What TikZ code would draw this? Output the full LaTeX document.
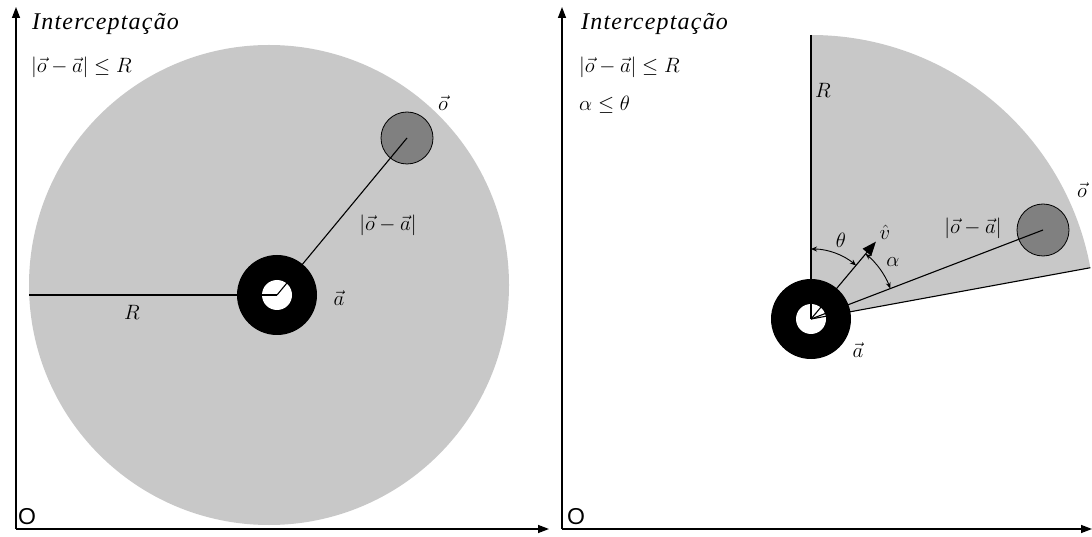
\documentclass[tikz,border=0pt]{standalone}
\usepackage{fontspec}
\setmainfont{Liberation Serif}
\newfontfamily\arialfont{Liberation Sans}
\newfontfamily\titlefont[LetterSpace=5]{Liberation Serif}
\usetikzlibrary{arrows.meta,calc}
\definecolor{lightfill}{RGB}{200,200,200}
\definecolor{darkfill}{RGB}{128,128,128}
\tikzset{
  axis/.style={line width=1.4pt,-{Triangle[length=11pt,width=8pt]}},
  thinline/.style={line width=1.1pt},
  lbl/.style={inner sep=0pt,font=\fontsize{21}{24}\selectfont},
  ttl/.style={inner sep=0pt,font=\titlefont\itshape\fontsize{24}{28}\selectfont},
  angarrow/.style={line width=0.9pt,{Stealth[length=6pt,width=5pt]}-{Stealth[length=6pt,width=5pt]}},
}
\newcommand{\dist}{\Bigl|\vec{o}-\vec{a}\Bigr|}
\begin{document}
\begin{tikzpicture}[x=1pt,y=1pt]
\useasboundingbox (0,0) rectangle (1092,536);
% ---------- left panel ----------
\fill[lightfill] (269,251) circle (240);
\coordinate (aL) at (277,241);
\coordinate (oL) at (407,398);
\coordinate (Rstart) at (29,241);
\fill[black] (aL) circle (40);
\fill[white] (aL) circle (15);
\fill[darkfill,draw=black,line width=0.8pt] (oL) circle (26);
\draw[thinline] (Rstart) -- (aL);
\draw[thinline] (aL) -- (oL);
\coordinate (OL) at (16,7);
\coordinate (xL) at (549,7);
\coordinate (yL) at (16,529);
\draw[axis] (OL) -- (xL);
\draw[axis] (OL) -- (yL);
\node[ttl,anchor=base west] (tL) at (32,506) {Interceptação};
\node[lbl,anchor=west] (cL) at (31,469) {$\dist\le R$};
\node[lbl] (RL) at (132,224) {$R$};
\node[lbl] (aLl) at (339,238) {$\vec{a}$};
\node[lbl] (oLl) at (443,433) {$\vec{o}$};
\node[lbl] (dL) at (388,311) {$\dist$};
\node[inner sep=0pt,font=\arialfont\fontsize{23}{26}\selectfont] (O1) at (27,19) {O};
% ---------- right panel ----------
\coordinate (aR) at (811,217);
\fill[lightfill] (aR) -- ++(10.4:284) arc[start angle=10.4,end angle=90,radius=284] -- cycle;
\draw[thinline] (aR) -- ++(10.4:284);
\draw[line width=1.4pt] (aR) -- ++(90:284);
\coordinate (oR) at (1043,306);
\fill[black] (aR) circle (40);
\fill[white] (aR) circle (15);
\fill[darkfill,draw=black,line width=0.8pt] (oR) circle (26);
\draw[thinline] (aR) -- (oR);
\draw[thinline] (aR) -- ++(90:15);
\draw[thinline] (aR) -- ++(10.4:15);
\coordinate (vtip) at ($(aR)+(50:101)$);
\draw[line width=1.1pt,-{Triangle[length=14pt,width=11pt]}] (aR) -- (vtip);
\draw[angarrow] ($(aR)+(90:70)$) arc[start angle=90,end angle=50,radius=70];
\draw[angarrow] ($(aR)+(50:85)$) arc[start angle=50,end angle=21.1,radius=85];
\coordinate (OR) at (562,7);
\coordinate (xR) at (1092,7);
\coordinate (yR) at (562,529);
\draw[axis] (OR) -- (xR);
\draw[axis] (OR) -- (yR);
\node[ttl,anchor=base west] (tR) at (581,506) {Interceptação};
\node[lbl,anchor=west] (cR) at (579,469) {$\dist\le R$};
\node[lbl,anchor=west] (cR2) at (579,431) {$\alpha\le\theta$};
\node[lbl] (RR) at (823,446) {$R$};
\node[lbl] (th) at (841,296) {$\theta$};
\node[lbl] (vh) at (885,304) {$\hat{v}$};
\node[lbl] (al) at (893,274) {$\alpha$};
\node[lbl] (dR) at (973,308) {$\dist$};
\node[lbl] (aRl) at (858,186) {$\vec{a}$};
\node[lbl] (oRl) at (1082,346) {$\vec{o}$};
\node[inner sep=0pt,font=\arialfont\fontsize{23}{26}\selectfont] (O2) at (576,19) {O};
\end{tikzpicture}
\end{document}
